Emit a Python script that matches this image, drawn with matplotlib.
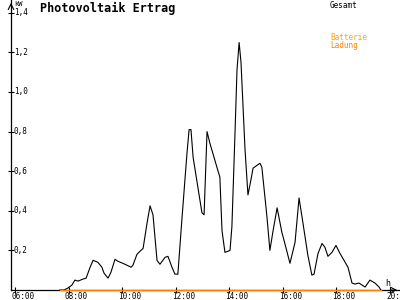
import matplotlib.pyplot as plt
from matplotlib.transforms import offset_copy

# Ertrag (kW) ueber Uhrzeit (Stunden)
pv_h = [7.66, 7.81, 7.96, 8.11, 8.22, 8.34, 8.52, 8.64, 8.79, 8.90, 9.08, 9.23, 9.31,
        9.46, 9.57, 9.72, 9.83, 10.01, 10.17, 10.32, 10.39, 10.54, 10.65, 10.77, 10.92,
        11.03, 11.14, 11.29, 11.40, 11.59, 11.70, 11.85, 11.96, 12.07, 12.22, 12.41,
        12.49, 12.56, 12.64, 12.97, 13.05, 13.16, 13.27, 13.53, 13.64, 13.72, 13.83,
        14.02, 14.09, 14.21, 14.28, 14.36, 14.43, 14.58, 14.69, 14.80, 14.88, 15.03,
        15.14, 15.21, 15.40, 15.51, 15.63, 15.78, 15.96, 16.04, 16.26, 16.45, 16.60,
        16.75, 16.93, 17.08, 17.16, 17.31, 17.46, 17.57, 17.68, 17.83, 17.98, 18.13,
        18.28, 18.43, 18.58, 18.69, 18.84, 19.07, 19.25, 19.44, 19.59, 19.66]
pv_kw = [0.0, 0.0, 0.01, 0.025, 0.05, 0.045, 0.055, 0.06, 0.115, 0.15, 0.14, 0.115, 0.085,
         0.06, 0.09, 0.155, 0.145, 0.135, 0.125, 0.115, 0.125, 0.18, 0.195, 0.21, 0.34,
         0.425, 0.38, 0.15, 0.13, 0.165, 0.17, 0.115, 0.08, 0.08, 0.355, 0.69,
         0.81, 0.81, 0.67, 0.39, 0.38, 0.80, 0.74, 0.62, 0.57, 0.30, 0.19,
         0.20, 0.32, 0.81, 1.11, 1.25, 1.15, 0.71, 0.48, 0.555, 0.615, 0.63,
         0.64, 0.62, 0.37, 0.20, 0.30, 0.415, 0.29, 0.25, 0.135, 0.24, 0.465,
         0.335, 0.175, 0.075, 0.08, 0.185, 0.235, 0.215, 0.17, 0.19, 0.225, 0.185,
         0.15, 0.115, 0.035, 0.03, 0.035, 0.015, 0.05, 0.035, 0.015, 0.0]

# Batterie-Ladung
lad_h = [7.66, 19.66]
lad_kw = [0.0, 0.0]

xticks = [6, 8, 10, 12, 14, 16, 18, 20]
xlabels = ["06:00", "08:00", "10:00", "12:00", "14:00", "16:00", "18:00", "20:00"]
yticks = [0.2, 0.4, 0.6, 0.8, 1.0, 1.2, 1.4]
ylabels = ["0,2", "0,4", "0,6", "0,8", "1,0", "1,2", "1,4"]

mono = "DejaVu Sans Mono"

fig = plt.figure(figsize=(4, 3), dpi=100)
ax = fig.add_axes([11 / 400, 10 / 300, 389 / 400, 290 / 300])
ax.set_xlim(5.832, 20.374)
ax.set_ylim(0, 1.4646)

ax.plot(pv_h, pv_kw, color="black", lw=0.8, clip_on=False, zorder=3)
ax.plot(lad_h, lad_kw, color="#ff8000", lw=1.0, clip_on=False, zorder=4)

for s in ["top", "right"]:
    ax.spines[s].set_visible(False)
ax.spines["left"].set_linewidth(0.9)
ax.spines["bottom"].set_linewidth(0.9)

ax.set_xticks(xticks)
ax.set_yticks(yticks)
ax.set_xticklabels([])
ax.set_yticklabels([])
ax.tick_params(direction="inout", length=5, width=0.8)

# Beschriftungen der Achsen
ytr = offset_copy(ax.get_yaxis_transform(), fig=fig, x=3, y=0, units="dots")
for v, lab in zip(yticks, ylabels):
    ax.text(0, v, lab, transform=ytr, fontsize=5.5, family=mono, ha="left", va="center")
xtr = offset_copy(ax.get_xaxis_transform(), fig=fig, x=-4, y=-2, units="dots")
for v, lab in zip(xticks, xlabels):
    ax.text(v, 0, lab, transform=xtr, fontsize=5.5, family=mono, ha="left", va="top",
            clip_on=False)

# Pfeile
ax.annotate("", xy=(0, 1.0), xytext=(0, 0.97), xycoords="axes fraction",
            arrowprops=dict(arrowstyle="->", lw=0.8, color="black"))
ax.annotate("", xy=(1.0, 0), xytext=(0.97, 0), xycoords="axes fraction",
            arrowprops=dict(arrowstyle="->", lw=0.8, color="black"))

fig.text(14 / 400, 1 - 3.5 / 300, "kW", fontsize=5, family=mono, va="center")
fig.text(385 / 400, 1 - 283 / 300, "h", fontsize=6, family=mono, va="center")
fig.text(40 / 400, 1 - 8 / 300, "Photovoltaik Ertrag", fontsize=8.5, family=mono,
         weight="bold", va="center")
fig.text(330 / 400, 1 - 5 / 300, "Gesamt", fontsize=5.5, family=mono, va="center")
fig.text(330 / 400, 1 - 37 / 300, "Batterie", fontsize=5.5, family=mono, va="center",
         color="#ffa500")
fig.text(330 / 400, 1 - 45 / 300, "Ladung", fontsize=5.5, family=mono, va="center",
         color="#ff8000")

fig.savefig("out.png", dpi=100)
